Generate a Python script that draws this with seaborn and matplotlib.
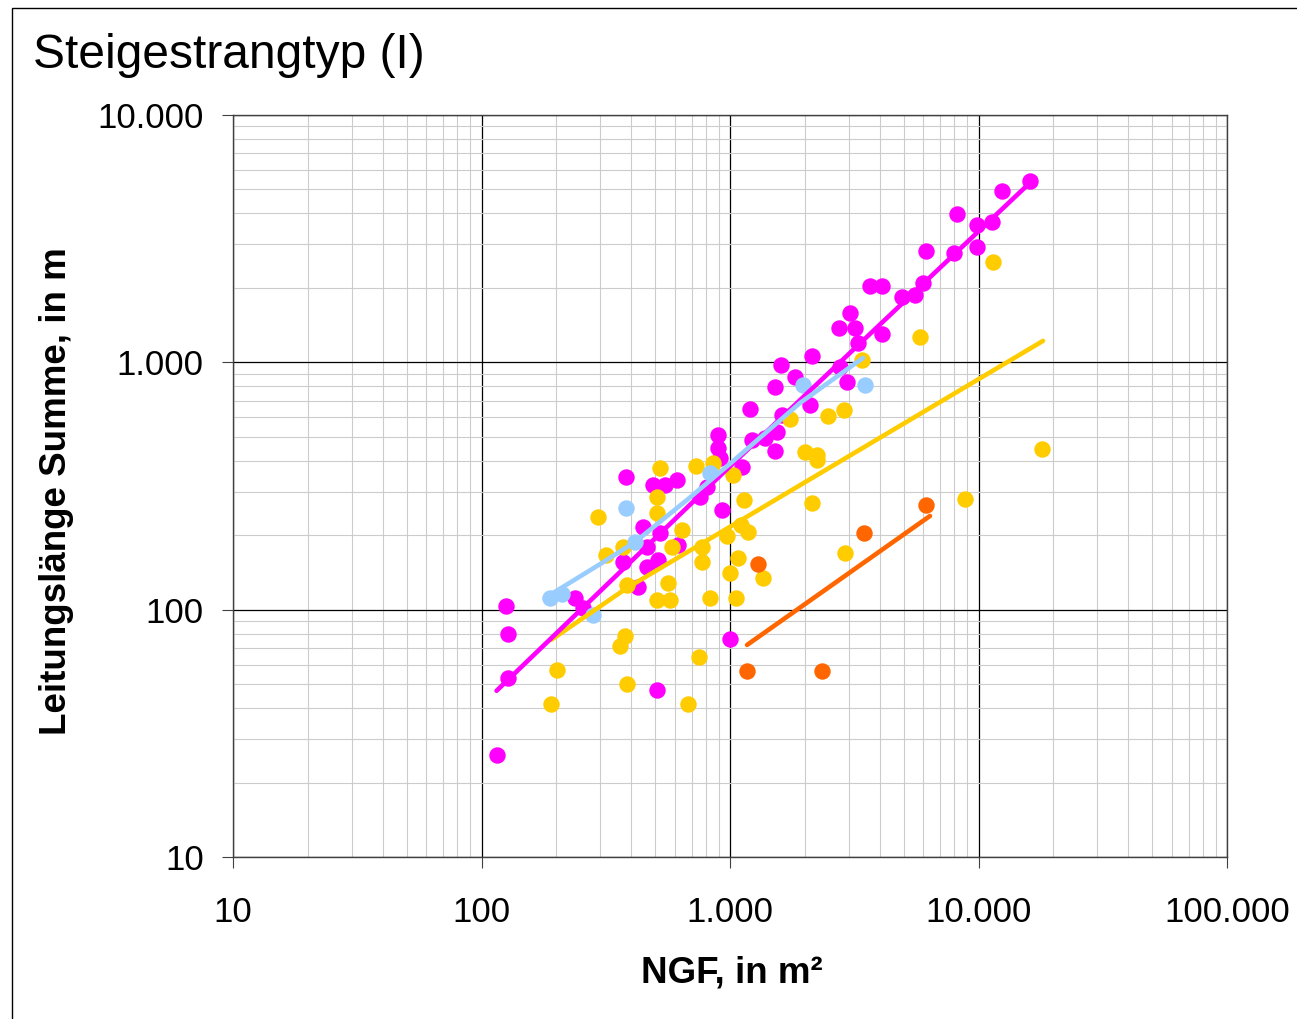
import numpy as np
import pandas as pd
import matplotlib
matplotlib.use("Agg")
import matplotlib.pyplot as plt
import seaborn as sns
from matplotlib.ticker import FixedLocator, FuncFormatter, LogLocator, NullFormatter
from matplotlib.patches import Rectangle

# --- measured data: NGF (m²) vs. total riser length (m) ---
magenta_ngf = [115.5, 125.5, 127.8, 127.8, 237.8, 256.2, 381.5, 371, 426.4, 446.6,
               463.5, 463.5, 489.8, 513.2, 522.8, 547.6, 611.9, 617.6, 757.3, 808,
               894.6, 894.6, 911.5, 928.6, 1000, 508.4, 1117, 1226, 1383, 1518,
               1518, 1546, 1604, 1619, 1826, 2098, 2138, 2772, 2957, 2745,
               3040, 3184, 3274, 3659, 4090, 4090, 4922, 5553, 5980, 6148,
               7970, 8195, 9862, 9862, 11330, 12430, 16110, 1204]
magenta_len = [25.8, 103.5, 79.7, 52.9, 111.5, 101.6, 344, 155.9, 123.5, 216,
               179.3, 148.8, 319.4, 158.9, 204.2, 319.4, 334.6, 182.7, 285.6, 313.5,
               508.6, 450.7, 410.6, 253, 76.1, 47.3, 377.6, 485.6, 494.7, 438.2,
               795, 523, 976, 612.9, 873, 672.8, 1061, 958, 833, 1378,
               1584, 1378, 1198, 2037, 2037, 1302, 1839, 1873, 2095, 2822,
               2770, 3982, 3594, 2929, 3696, 4933, 5413, 648]

lightblue_ngf = [188.7, 210.8, 281.0, 381.5, 414.7, 830.7, 1967, 3494]
lightblue_len = [111.5, 115.7, 95.2, 257.7, 187.8, 357, 810, 810]

yellow_ngf = [522.8, 729.7, 854.2, 1028, 508.4, 508.4, 294.3, 1138, 641, 316.9,
              371, 584.2, 771.4, 771.4, 972.5, 1107, 1181, 1077, 1000, 1357,
              385, 563, 508.4, 573.6, 830.7, 1057, 378, 360.8, 750.4, 201.3,
              385, 190.4, 677.6, 2138, 8824, 2902, 3398, 5816, 2480, 2876,
              1744, 2003, 2239, 2239, 11440, 18010]
yellow_len = [374, 381, 392, 350.5, 285.6, 246, 237, 277.7, 210, 166.4,
              179.3, 179.3, 179.3, 155.9, 198.6, 220, 206.2, 161.8, 140.7, 134.4,
              125.9, 128.2, 109.4, 109.4, 111.5, 111.5, 78.3, 71.3, 64.4, 57.0,
              50.1, 41.6, 41.6, 270.1, 280.3, 169.5, 1022, 1267, 607.2, 642,
              590.3, 434.1, 422.2, 403, 2547, 446.4]

orange_ngf = [1296, 1171, 2345, 3461, 6148]
orange_len = [153, 56.5, 56.5, 204.2, 265.1]

# --- trend curves per group ---
magenta_trend_ngf = [115, 1000, 16900]
magenta_trend_len = [47, 380, 5570]
lightblue_trend_ngf = [180.1, 305.4, 414.7, 671.4, 1009, 1913, 3430]
lightblue_trend_len = [111.5, 154.5, 187.8, 277.7, 392, 685, 1042]
yellow_trend_ngf = [190.4, 385, 18180]
yellow_trend_len = [75.4, 122.4, 1221]
orange_trend_ngf = [1171, 6380]
orange_trend_len = [72.0, 239.3]

groups = ["magenta", "yellow", "lightblue", "orange"]
colors = {"magenta": "#FF00FF", "yellow": "#FFCC00",
          "lightblue": "#99CCFF", "orange": "#FF6600"}

points = pd.concat([
    pd.DataFrame({"NGF": magenta_ngf, "Laenge": magenta_len, "Gruppe": "magenta"}),
    pd.DataFrame({"NGF": yellow_ngf, "Laenge": yellow_len, "Gruppe": "yellow"}),
    pd.DataFrame({"NGF": lightblue_ngf, "Laenge": lightblue_len, "Gruppe": "lightblue"}),
    pd.DataFrame({"NGF": orange_ngf, "Laenge": orange_len, "Gruppe": "orange"}),
], ignore_index=True)

trends = [
    (yellow_trend_ngf, yellow_trend_len, "yellow"),
    (orange_trend_ngf, orange_trend_len, "orange"),
    (magenta_trend_ngf, magenta_trend_len, "magenta"),
    (lightblue_trend_ngf, lightblue_trend_len, "lightblue"),
]

sns.set_style("white")
plt.rcParams["font.family"] = ["Liberation Sans", "DejaVu Sans"]
plt.rcParams["text.color"] = "black"
plt.rcParams["axes.labelcolor"] = "black"
plt.rcParams["xtick.color"] = "black"
plt.rcParams["ytick.color"] = "black"

W, H = 1297, 1019
fig = plt.figure(figsize=(W / 100, H / 100), dpi=100)
ax = fig.add_axes([233 / W, 1 - 857 / H, (1227 - 233) / W, (857 - 115) / H])

ax.set_xscale("log")
ax.set_yscale("log")

# markers first, group by group so the overlap order is fixed
for g in groups:
    sns.scatterplot(data=points[points["Gruppe"] == g], x="NGF", y="Laenge",
                    color=colors[g], s=140, linewidth=0, ax=ax, zorder=3,
                    legend=False)

# trend curves on top of the markers
for xs, ys, g in trends:
    sns.lineplot(x=xs, y=ys, color=colors[g], lw=3.3, ax=ax, sort=False,
                 estimator=None, zorder=4, solid_capstyle="round")

ax.set_xlim(10, 100000)
ax.set_ylim(10, 10000)

def de_thousands(v, pos=None):
    return f"{int(round(v)):,}".replace(",", ".")

ax.xaxis.set_major_locator(FixedLocator([10, 100, 1000, 10000, 100000]))
ax.yaxis.set_major_locator(FixedLocator([10, 100, 1000, 10000]))
ax.xaxis.set_major_formatter(FuncFormatter(de_thousands))
ax.yaxis.set_major_formatter(FuncFormatter(de_thousands))
ax.xaxis.set_minor_locator(LogLocator(base=10, subs=np.arange(2, 10), numticks=20))
ax.yaxis.set_minor_locator(LogLocator(base=10, subs=np.arange(2, 10), numticks=20))
ax.xaxis.set_minor_formatter(NullFormatter())
ax.yaxis.set_minor_formatter(NullFormatter())

ax.set_axisbelow(True)
ax.grid(which="minor", color="#CCCCCC", lw=0.8)
ax.grid(which="major", color="black", lw=0.9)

ax.tick_params(which="major", direction="out", length=8, width=0.8,
               color="#404040", labelcolor="black", labelsize=25,
               bottom=True, left=True)
ax.tick_params(axis="y", which="major", pad=13)
ax.tick_params(axis="x", which="major", pad=20)
ax.tick_params(which="minor", length=0)

for side in ["left", "right", "top", "bottom"]:
    ax.spines[side].set_visible(True)
    ax.spines[side].set_color("#404040")
    ax.spines[side].set_linewidth(1.0)

ax.set_xlabel("NGF, in m²", fontsize=26.5, fontweight="bold", va="center")
ax.xaxis.set_label_coords((731.5 - 233) / 994, (857 - 973) / 742)
ax.set_ylabel("Leitungslänge Summe, in m", fontsize=26.5, fontweight="bold",
              va="center")
ax.yaxis.set_label_coords((57 - 233) / 994, (857 - 491) / 742)

fig.text(33 / W, 1 - 68 / H, "Steigestrangtyp (I)", fontsize=34.5,
         ha="left", va="baseline")

fig.patches.append(Rectangle((12 / W, -0.1), 1.2, 1 - 8 / H + 0.1,
                             transform=fig.transFigure, fill=False,
                             ec="black", lw=1.0))

fig.savefig("out.png", dpi=100)
